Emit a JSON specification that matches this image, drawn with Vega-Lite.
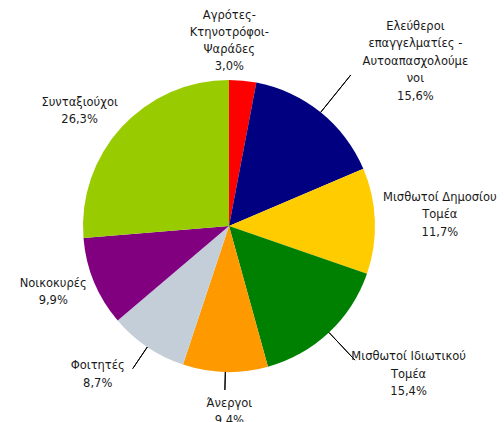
{
  "$schema": "https://vega.github.io/schema/vega-lite/v6.json",
  "autosize": {"type": "none"},
  "width": 458,
  "height": 392,
  "padding": {"left": 0, "top": 30, "right": 46, "bottom": 0},
  "background": "white",
  "config": {"view": {"stroke": null}, "text": {"font": "DejaVu Sans", "fontSize": 11.5, "lineHeight": 17, "fill": "#1a1a1a"}},
  "data": {"values": [
    {"order": 1, "category": "Αγρότες-Κτηνοτρόφοι-Ψαράδες", "label": "Αγρότες-\nΚτηνοτρόφοι-\nΨαράδες", "value": 3.0},
    {"order": 2, "category": "Ελεύθεροι επαγγελματίες - Αυτοαπασχολούμενοι", "label": "Ελεύθεροι\nεπαγγελματίες -\nΑυτοαπασχολούμε\nνοι", "value": 15.6},
    {"order": 3, "category": "Μισθωτοί Δημοσίου Τομέα", "label": "Μισθωτοί Δημοσίου\nΤομέα", "value": 11.7},
    {"order": 4, "category": "Μισθωτοί Ιδιωτικού Τομέα", "label": "Μισθωτοί Ιδιωτικού\nΤομέα", "value": 15.4},
    {"order": 5, "category": "Άνεργοι", "label": "Άνεργοι", "value": 9.4},
    {"order": 6, "category": "Φοιτητές", "label": "Φοιτητές", "value": 8.7},
    {"order": 7, "category": "Νοικοκυρές", "label": "Νοικοκυρές", "value": 9.9},
    {"order": 8, "category": "Συνταξιούχοι", "label": "Συνταξιούχοι", "value": 26.3}
  ]},
  "transform": [
    {"window": [{"op": "sum", "field": "value", "as": "end"}], "sort": [{"field": "order"}], "frame": [null, 0]},
    {"calculate": "datum.end - datum.value", "as": "start"},
    {"calculate": "datum.end - datum.value / 2", "as": "mid"},
    {"calculate": "datum.label + '\\n' + replace(format(datum.value, '.1f'), '.', ',') + '%'", "as": "text"}
  ],
  "layer": [
    {
      "mark": {"type": "arc", "radius": 146},
      "encoding": {
        "theta": {"field": "start", "type": "quantitative", "scale": {"domain": [0, 100]}},
        "theta2": {"field": "end"},
        "color": {"field": "category", "type": "nominal", "legend": null, "sort": null,
          "scale": {
            "domain": ["Αγρότες-Κτηνοτρόφοι-Ψαράδες", "Ελεύθεροι επαγγελματίες - Αυτοαπασχολούμενοι", "Μισθωτοί Δημοσίου Τομέα", "Μισθωτοί Ιδιωτικού Τομέα", "Άνεργοι", "Φοιτητές", "Νοικοκυρές", "Συνταξιούχοι"],
            "range": ["#FF0000", "#000080", "#FFCC00", "#008000", "#FF9900", "#C3CED8", "#800080", "#99CC00"]
          }}
      }
    },
    {
      "transform": [{"filter": "datum.order == 2"}],
      "mark": {"type": "arc", "radius": 194, "radius2": 146, "stroke": "black", "strokeWidth": 1, "fill": null},
      "encoding": {"theta": {"field": "mid", "type": "quantitative", "scale": {"domain": [0, 100]}}, "theta2": {"field": "mid"}}
    },
    {
      "transform": [{"filter": "datum.order == 4"}],
      "mark": {"type": "arc", "radius": 184, "radius2": 146, "stroke": "black", "strokeWidth": 1, "fill": null},
      "encoding": {"theta": {"field": "mid", "type": "quantitative", "scale": {"domain": [0, 100]}}, "theta2": {"field": "mid"}}
    },
    {
      "transform": [{"filter": "datum.order == 5"}],
      "mark": {"type": "arc", "radius": 164, "radius2": 146, "stroke": "black", "strokeWidth": 1, "fill": null},
      "encoding": {"theta": {"field": "mid", "type": "quantitative", "scale": {"domain": [0, 100]}}, "theta2": {"field": "mid"}}
    },
    {
      "transform": [{"filter": "datum.order == 6"}],
      "mark": {"type": "arc", "radius": 172, "radius2": 146, "stroke": "black", "strokeWidth": 1, "fill": null},
      "encoding": {"theta": {"field": "mid", "type": "quantitative", "scale": {"domain": [0, 100]}}, "theta2": {"field": "mid"}}
    },
    {
      "transform": [{"filter": "datum.order == 1"}],
      "mark": {"type": "text", "radius": 184, "dx": -17, "dy": -27, "lineBreak": "\n", "lineHeight": 17, "align": "center", "baseline": "middle"},
      "encoding": {"theta": {"field": "mid", "type": "quantitative", "scale": {"domain": [0, 100]}}, "text": {"field": "text"}}
    },
    {
      "transform": [{"filter": "datum.order == 2"}],
      "mark": {"type": "text", "radius": 230, "dx": 42, "dy": -20, "lineBreak": "\n", "lineHeight": 17.5, "align": "center", "baseline": "middle"},
      "encoding": {"theta": {"field": "mid", "type": "quantitative", "scale": {"domain": [0, 100]}}, "text": {"field": "text"}}
    },
    {
      "transform": [{"filter": "datum.order == 3"}],
      "mark": {"type": "text", "radius": 211, "dx": 0, "dy": -21, "lineBreak": "\n", "lineHeight": 17.5, "align": "center", "baseline": "middle"},
      "encoding": {"theta": {"field": "mid", "type": "quantitative", "scale": {"domain": [0, 100]}}, "text": {"field": "text"}}
    },
    {
      "transform": [{"filter": "datum.order == 4"}],
      "mark": {"type": "text", "radius": 220, "dx": 29, "dy": -29, "lineBreak": "\n", "lineHeight": 17.5, "align": "center", "baseline": "middle"},
      "encoding": {"theta": {"field": "mid", "type": "quantitative", "scale": {"domain": [0, 100]}}, "text": {"field": "text"}}
    },
    {
      "transform": [{"filter": "datum.order == 5"}],
      "mark": {"type": "text", "radius": 184, "dx": 5, "dy": -6, "lineBreak": "\n", "lineHeight": 17, "align": "center", "baseline": "middle"},
      "encoding": {"theta": {"field": "mid", "type": "quantitative", "scale": {"domain": [0, 100]}}, "text": {"field": "text"}}
    },
    {
      "transform": [{"filter": "datum.order == 6"}],
      "mark": {"type": "text", "radius": 190, "dx": -25, "dy": -17, "lineBreak": "\n", "lineHeight": 18, "align": "center", "baseline": "middle"},
      "encoding": {"theta": {"field": "mid", "type": "quantitative", "scale": {"domain": [0, 100]}}, "text": {"field": "text"}}
    },
    {
      "transform": [{"filter": "datum.order == 7"}],
      "mark": {"type": "text", "radius": 187, "dx": -3, "dy": -14, "lineBreak": "\n", "lineHeight": 17, "align": "center", "baseline": "middle"},
      "encoding": {"theta": {"field": "mid", "type": "quantitative", "scale": {"domain": [0, 100]}}, "text": {"field": "text"}}
    },
    {
      "transform": [{"filter": "datum.order == 8"}],
      "mark": {"type": "text", "radius": 195, "dx": -6, "dy": 9, "lineBreak": "\n", "lineHeight": 17, "align": "center", "baseline": "middle"},
      "encoding": {"theta": {"field": "mid", "type": "quantitative", "scale": {"domain": [0, 100]}}, "text": {"field": "text"}}
    }
  ]
}
